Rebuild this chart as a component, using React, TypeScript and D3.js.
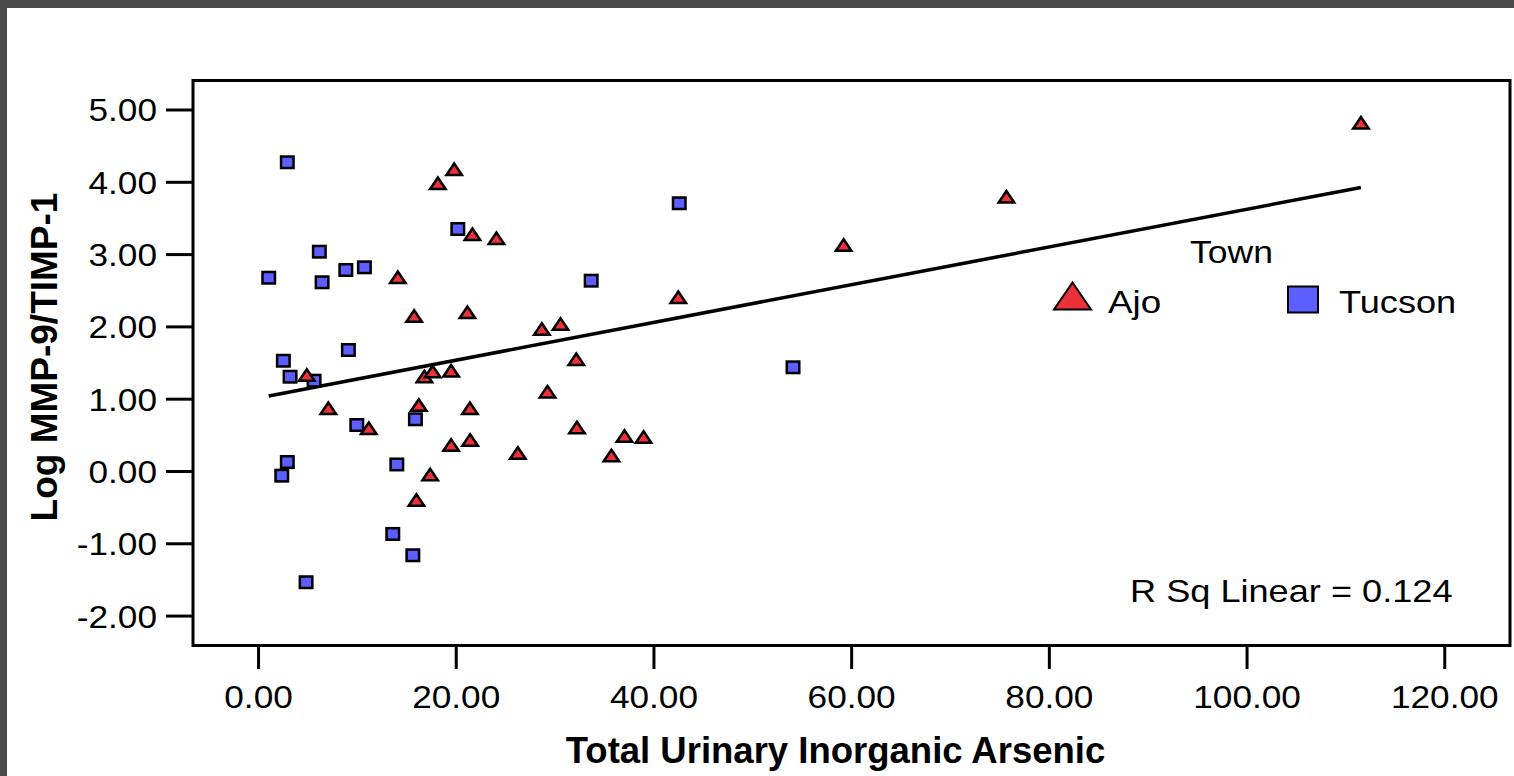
import React from 'react';
import * as d3 from 'd3';

const W = 1514;
const H = 776;

// Ajo (triangles)
const ajoX = [4.88, 7.06, 11.15, 14.09, 15.74, 15.97, 16.21, 16.78, 17.61, 17.36, 18.14, 19.48, 19.48, 19.79, 21.13, 21.38,
  21.41, 21.64, 24.07, 26.23, 28.66, 29.23, 30.55, 32.14, 32.21, 35.7, 37.02, 38.95, 42.46, 59.19, 75.66, 111.52];
const ajoY = [1.335, 0.874, 0.598, 2.686, 2.151, -0.394, 0.92, 1.314, 1.383, -0.041, 3.986, 1.393, 0.367, 4.18, 2.202, 0.874,
  0.436, 3.281, 3.225, 0.256, 1.971, 1.104, 2.04, 1.552, 0.609, 0.221, 0.491, 0.477, 2.409, 3.133, 3.8, 4.824];

// Tucson (squares)
const tucsonX = [2.91, 1.03, 6.15, 6.43, 8.83, 10.71, 20.16, 42.56, 33.65, 2.51, 3.19, 5.62, 9.09, 9.94, 15.87, 2.91,
  2.35, 13.99, 13.58, 15.61, 4.81, 54.07];
const tucsonY = [4.277, 2.68, 3.04, 2.617, 2.787, 2.824, 3.354, 3.71, 2.639, 1.532, 1.311, 1.256, 1.68, 0.643, 0.722, 0.131,
  -0.058, 0.097, -0.864, -1.159, -1.532, 1.441];

const xTicks = [0, 20, 40, 60, 80, 100, 120];
const yTicks = [-2, -1, 0, 1, 2, 3, 4, 5];

// linear fit drawn by SPSS
const fitIntercept = 1.018;
const fitSlope = 0.0261;
const rSquare = 0.124;

const FONT = '"Liberation Sans", Arial, Helvetica, sans-serif';
const RED = '#ee3038';
const BLUE = '#5c5eff';

const frame = { left: 193, top: 80.5, right: 1510, bottom: 645.5 };

const Label = ({ x, y, text, size = 32, sx = 1.1, anchor = 'start', bold = false, rotate = 0 }: any) => (
  <text
    transform={`translate(${x},${y}) rotate(${rotate}) scale(${sx},1)`}
    textAnchor={anchor}
    fontSize={size}
    fontWeight={bold ? 'bold' : 'normal'}
    fontFamily={FONT}
    fill="#000"
  >
    {text}
  </text>
);

const tri = (w: number, h: number) => `M0,${-h / 2}L${w / 2},${h / 2}L${-w / 2},${h / 2}Z`;

const App = () => {
  const x = d3.scaleLinear().domain([-6.63, 126.6]).range([frame.left, frame.right]);
  const y = d3.scaleLinear().domain([-2.407, 5.408]).range([frame.bottom, frame.top]);

  const allX = ajoX.concat(tucsonX);
  const x0 = d3.min(allX) as number;
  const x1 = d3.max(allX) as number;
  const fitLine = d3.line<number>()
    .x(d => x(d))
    .y(d => y(fitIntercept + fitSlope * d));

  return (
    <svg width={W} height={H} style={{ position: 'absolute', left: 0, top: 0 }}>
      <rect x={0} y={0} width={W} height={H} fill="#4a4a4a" />
      <rect x={7} y={8} width={W - 7} height={H - 8} fill="#fff" />

      {/* y axis ticks */}
      {yTicks.map(t => (
        <g key={'y' + t}>
          <line x1={166} x2={frame.left} y1={y(t)} y2={y(t)} stroke="#000" strokeWidth={3} />
          <Label x={157} y={y(t) + 11.5} text={t.toFixed(2)} anchor="end" />
        </g>
      ))}

      {/* x axis ticks */}
      {xTicks.map(t => (
        <g key={'x' + t}>
          <line x1={x(t)} x2={x(t)} y1={frame.bottom} y2={669} stroke="#000" strokeWidth={3} />
          <Label x={x(t)} y={708} text={t.toFixed(2)} anchor="middle" />
        </g>
      ))}

      <path d={fitLine([x0, x1]) || ''} fill="none" stroke="#000" strokeWidth={3.5} />

      {tucsonX.map((d, i) => (
        <rect key={'t' + i} x={x(d) - 6.25} y={y(tucsonY[i]) - 5.75} width={12.5} height={11.5}
          fill={BLUE} stroke="#000" strokeWidth={2.5} />
      ))}
      {ajoX.map((d, i) => (
        <path key={'a' + i} d={tri(15.5, 11.5)} transform={`translate(${x(d)},${y(ajoY[i])})`}
          fill={RED} stroke="#000" strokeWidth={2.5} />
      ))}

      <rect x={frame.left} y={frame.top} width={frame.right - frame.left} height={frame.bottom - frame.top}
        fill="none" stroke="#000" strokeWidth={3} />

      {/* legend */}
      <Label x={1190} y={263} text="Town" sx={1.11} />
      <path d={tri(37, 27)} transform="translate(1072.5,296)" fill={RED} stroke="#000" strokeWidth={2} />
      <Label x={1108} y={313} text="Ajo" sx={1.15} />
      <rect x={1288} y={286.5} width={30} height={26} fill={BLUE} stroke="#000" strokeWidth={2} />
      <Label x={1339} y={313} text="Tucson" sx={1.13} />

      <Label x={1130} y={602} text={`R Sq Linear = ${rSquare.toFixed(3)}`} sx={1.13} />

      <Label x={835.5} y={763} text="Total Urinary Inorganic Arsenic" size={36.5} sx={1} anchor="middle" bold />
      <Label x={57} y={357} text="Log MMP-9/TIMP-1" size={37} sx={1} anchor="middle" bold rotate={-90} />
    </svg>
  );
};

export default App;
